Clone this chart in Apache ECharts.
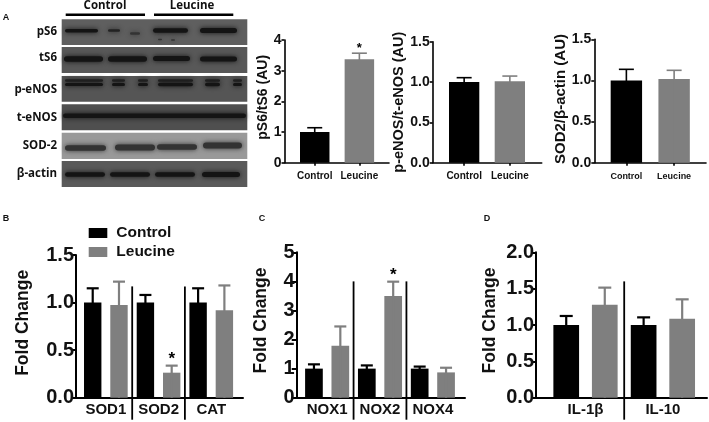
<!DOCTYPE html>
<html><head><meta charset="utf-8">
<style>html,body{margin:0;padding:0;background:#fff}#c{width:709px;height:422px}</style>
<script src="https://cdn.jsdelivr.net/npm/echarts@6/dist/echarts.min.js"></script>
</head><body><div id="c"></div>
<script>
const groupLabels = ['Control', 'Leucine'];
const pS6Means = [1.0, 3.37];
const pS6Tops = [1.14, 3.57];
const eNOSMeans = [1.0, 1.01];
const eNOSTops = [1.054, 1.074];
const sod2Means = [1.0, 1.017];
const sod2Tops = [1.135, 1.123];

const antioxCats = ['SOD1', 'SOD2', 'CAT'];
const antioxControl = [1.0, 1.0, 1.0];
const antioxControlTops = [1.15, 1.08, 1.15];
const antioxLeucine = [0.975, 0.263, 0.92];
const antioxLeucineTops = [1.22, 0.337, 1.18];

const noxCats = ['NOX1', 'NOX2', 'NOX4'];
const noxControl = [1.0, 1.0, 1.0];
const noxControlTops = [1.147, 1.11, 1.07];
const noxLeucine = [1.79, 3.5, 0.87];
const noxLeucineTops = [2.45, 3.99, 1.03];

const ilCats = ['IL-1β', 'IL-10'];
const ilControl = [1.0, 1.0];
const ilControlTops = [1.124, 1.105];
const ilLeucine = [1.28, 1.087];
const ilLeucineTops = [1.514, 1.353];

const BLACK = '#000', GRAY = '#7f7f7f', FONT = '"Liberation Sans", Arial, sans-serif';
const grid = [], xAxis = [], yAxis = [], series = [];

function errorSeries(gi, idx, tops, color, off, capW, lw, stars, starSize) {
  series.push({
    type: 'custom', xAxisIndex: gi, yAxisIndex: gi, silent: true, z: 5,
    data: tops.map((t, i) => [idx[i], t, stars && stars.includes(idx[i]) ? 1 : 0]),
    renderItem(p, api) {
      const i = api.value(0), t = api.value(1);
      const band = api.size([1, 0])[0];
      const x = api.coord([i, 0])[0] + off * band;
      const y0 = api.coord([i, 0])[1], y1 = api.coord([i, t])[1];
      const style = { stroke: color, lineWidth: lw, fill: 'none' };
      const kids = [
        { type: 'line', shape: { x1: x, y1: y0, x2: x, y2: y1 }, style },
        { type: 'line', shape: { x1: x - capW / 2, y1, x2: x + capW / 2, y2: y1 }, style }
      ];
      if (api.value(2)) kids.push({ type: 'text', style: { text: '*', x, y: y1 - starSize * 0.85, align: 'center', verticalAlign: 'top', fill: '#000', font: 'bold ' + starSize + 'px ' + FONT } });
      return { type: 'group', children: kids };
    }
  });
}

function panel(o) {
  let gi = grid.length;
  grid.push({ left: o.axisX, top: o.top, width: o.endX - o.axisX, height: o.zero - o.top });
  xAxis.push({ gridIndex: gi, type: 'value', min: 0, max: 1, axisLabel: { show: false }, axisTick: { show: false }, splitLine: { show: false }, axisLine: { show: true, lineStyle: { color: '#000', width: o.lw } } });
  yAxis.push({ gridIndex: gi, type: 'value', min: 0, max: o.max, interval: o.interval, name: o.name, nameLocation: 'middle', nameGap: o.nameGap,
    nameTextStyle: { color: '#111', fontFamily: FONT, fontWeight: 'bold', fontSize: o.nameSize, padding: [0, 0, 0, o.namePad || 0] },
    splitLine: { show: false },
    axisLine: { show: true, lineStyle: { color: '#000', width: o.lw } },
    axisTick: { show: true, length: o.tick, lineStyle: { color: '#000', width: o.lw } },
    axisLabel: { color: '#111', fontFamily: FONT, fontWeight: 'bold', fontSize: o.ySize, margin: o.yMargin, formatter: v => v.toFixed(o.dec) } });
  gi = grid.length;
  grid.push({ left: o.bandL, top: o.top, width: o.bandR - o.bandL, height: o.zero - o.top });
  xAxis.push({ gridIndex: gi, type: 'category', data: o.cats,
    axisLine: { show: false },
    axisTick: { show: !!o.xTick, alignWithLabel: true, length: o.xTick || 0, lineStyle: { color: '#000', width: o.lw } },
    axisLabel: { color: '#111', fontFamily: FONT, fontWeight: 'bold', fontSize: o.xSize, margin: o.xMargin, interval: 0 } });
  yAxis.push({ gridIndex: gi, type: 'value', min: 0, max: o.max, show: false });
  return gi;
}

function singlePanel(o, means, tops, stars) {
  const gi = panel(Object.assign({ cats: groupLabels }, o));
  series.push({ type: 'bar', xAxisIndex: gi, yAxisIndex: gi, barWidth: o.barW, silent: true,
    data: means.map((v, i) => ({ value: v, itemStyle: { color: i ? GRAY : BLACK } })) });
  errorSeries(gi, [0], [tops[0]], BLACK, 0, o.capW, o.errW);
  errorSeries(gi, [1], [tops[1]], GRAY, 0, o.capW, o.errW, stars, 13);
}

function groupPanel(o, ctrl, ctrlTops, leu, leuTops, stars) {
  const gi = panel(o);
  const base = { type: 'bar', xAxisIndex: gi, yAxisIndex: gi, barWidth: o.barW, barGap: o.barGap, silent: true };
  series.push(Object.assign({ name: 'Control', data: ctrl, itemStyle: { color: BLACK } }, base));
  series.push(Object.assign({ name: 'Leucine', data: leu, itemStyle: { color: GRAY } }, base));
  const off = (1 + parseFloat(o.barGap) / 100) * o.barW / 2 / ((o.bandR - o.bandL) / o.cats.length);
  const idx = o.cats.map((c, i) => i);
  errorSeries(gi, idx, ctrlTops, BLACK, -off, o.capW, o.errW);
  errorSeries(gi, idx, leuTops, GRAY, off, o.capW, o.errW, stars, 17);
  series.push({ type: 'custom', xAxisIndex: gi, yAxisIndex: gi, silent: true, z: 6,
    data: o.cats.slice(0, -1).map((c, i) => [i, o.divTop]),
    renderItem(p, api) {
      const i = api.value(0), band = api.size([1, 0])[0];
      const x = api.coord([i, 0])[0] + band / 2;
      return { type: 'line', shape: { x1: x, y1: api.coord([i, api.value(1)])[1], x2: x, y2: api.coord([i, 0])[1] + 22 }, style: { stroke: '#000', lineWidth: 1.8 } };
    } });
}

const smallA = { top: 0, zero: 162.7, lw: 1.6, tick: 3, ySize: 14, yMargin: 3, errW: 1.6, xTick: 3, xMargin: 9 };
singlePanel(Object.assign({}, smallA, { axisX: 284.5, endX: 389, top: 40, bandL: 292.4, bandR: 381.7, max: 4, interval: 1, dec: 0, name: 'pS6/tS6 (AU)', nameGap: 10, nameSize: 14, namePad: 8, barW: 29.5, capW: 15, xSize: 10 }), pS6Means, pS6Tops, [1]);
singlePanel(Object.assign({}, smallA, { axisX: 432.7, endX: 541.7, top: 41.7, bandL: 441.3, bandR: 532.7, max: 1.5, interval: 0.5, dec: 1, name: 'p-eNOS/t-eNOS (AU)', nameGap: 23, nameSize: 14.5, barW: 30.3, capW: 15, xSize: 10 }), eNOSMeans, eNOSTops);
singlePanel(Object.assign({}, smallA, { axisX: 594.3, endX: 706, top: 39.3, bandL: 602.5, bandR: 698, max: 1.5, interval: 0.5, dec: 1, name: 'SOD2/β-actin (AU)', nameGap: 25, nameSize: 15, namePad: 4, barW: 31.4, capW: 15, xSize: 9 }), sod2Means, sod2Tops);

const lower = { zero: 397.7, lw: 2, tick: 5, ySize: 20, yMargin: 2, errW: 2.2, capW: 12, xSize: 15, xMargin: 5, nameSize: 17.5, divTop: 1.17 };
groupPanel(Object.assign({}, lower, { axisX: 76, endX: 243, top: 255, bandL: 79.5, bandR: 237.6, cats: antioxCats, max: 1.5, interval: 0.5, dec: 1, name: 'Fold Change', nameGap: 44, namePad: 7, barW: 17.4, barGap: '51%' }), antioxControl, antioxControlTops, antioxLeucine, antioxLeucineTops, [1]);
groupPanel(Object.assign({}, lower, { axisX: 296.7, endX: 465, top: 252.3, bandL: 300.7, bandR: 459.3, cats: noxCats, max: 5, interval: 1, dec: 0, name: 'Fold Change', nameGap: 27, namePad: 9, barW: 17.7, barGap: '49%', divTop: 4 }), noxControl, noxControlTops, noxLeucine, noxLeucineTops, [1]);
groupPanel(Object.assign({}, lower, { axisX: 536, endX: 707, top: 252.3, bandL: 546.8, bandR: 701.6, cats: ilCats, max: 2, interval: 0.5, dec: 1, name: 'Fold Change', nameGap: 37, namePad: 9, barW: 25.7, barGap: '50%', capW: 13, divTop: 1.6 }), ilControl, ilControlTops, ilLeucine, ilLeucineTops);

const graphic = [];
function blotText(text, x, y, align, size) {
  graphic.push({ type: 'text', x, y, style: { text, align, verticalAlign: 'middle', fill: '#111', font: 'bold ' + size + 'px "Open Sans", ' + FONT } });
}
function blot(y0, y1, bg, bands) {
  graphic.push({ type: 'rect', shape: { x: 61.7, y: y0, width: 185.6, height: y1 - y0 }, style: { fill: bg } });
  bands.forEach(b => graphic.push({ type: 'rect', shape: { x: b[0], y: b[2] - b[3] / 2, width: b[1] - b[0], height: b[3], r: b[3] / 2 }, style: { fill: b[4] || '#141414', shadowBlur: 5, shadowColor: b[4] || '#141414' } }));
}
blot(19.3, 45, '#5f5f5f', [[65, 98, 30.7, 3.5], [108, 120, 30.5, 2.5, '#222'], [130, 140, 33.5, 2.5, '#333'], [153, 188, 30.5, 4.5], [200, 237, 30.5, 5], [158, 162, 39.5, 1.5, '#333'], [171, 175, 40, 1.5, '#333']]);
blot(47, 73, '#585858', [[64, 103, 59, 5.5], [108, 147, 59, 5.5], [153, 190, 58.5, 5], [200, 237, 59, 5]]);
blot(76, 101.7, '#555', [[65, 103, 80.5, 2.5, '#222'], [65, 103, 84.5, 3], [112, 125, 80.5, 2.5, '#222'], [112, 125, 84.5, 3], [138, 148, 80.5, 2.5, '#222'], [138, 148, 84.5, 3], [158, 193, 80.5, 2.5, '#222'], [158, 193, 84.5, 3.5], [205, 220, 80.5, 2.5, '#222'], [205, 220, 84.5, 3.5], [233, 242, 80.5, 2.5, '#222'], [233, 242, 84.5, 3]]);
blot(104.3, 130.3, '#4f4f4f', [[63, 246, 115.7, 4.5]]);
blot(132.7, 159, '#999', [[65, 106, 148, 5.5, '#333'], [115, 155, 147.5, 6, '#333'], [157, 197, 147, 5.5, '#333'], [203, 242, 145.5, 6, '#333']]);
blot(161, 187, '#5a5a5a', [[65, 105, 174.5, 4.5], [110, 150, 174.5, 4.5], [155, 195, 174.5, 4.5], [202, 240, 174.5, 5]]);
graphic.push({ type: 'rect', shape: { x: 65.7, y: 13.4, width: 79.3, height: 2.6 }, style: { fill: '#000' } });
graphic.push({ type: 'rect', shape: { x: 154, y: 13.4, width: 79.3, height: 2.6 }, style: { fill: '#000' } });
blotText('Control', 105, 6, 'center', 11.5);
blotText('Leucine', 192, 6, 'center', 11.5);
[['pS6', 32], ['tS6', 58], ['p-eNOS', 90], ['t-eNOS', 118], ['SOD-2', 146], ['β-actin', 174]].forEach(r => blotText(r[0], 57, r[1], 'right', 11.5));
[['A', 6, 18], ['B', 6, 219], ['C', 262, 219], ['D', 487, 219]].forEach(r =>
  graphic.push({ type: 'text', x: r[1], y: r[2], style: { text: r[0], align: 'center', verticalAlign: 'middle', fill: '#111', font: 'bold 9px ' + FONT } }));

const chart = echarts.init(document.getElementById('c'), null, { renderer: 'canvas' });
chart.setOption({
  animation: false, backgroundColor: '#fff',
  grid, xAxis, yAxis, series, graphic,
  legend: { data: groupLabels, orient: 'vertical', left: 88.7, top: 224, padding: 0, itemWidth: 18.6, itemHeight: 10, itemGap: 1, icon: 'rect', selectedMode: false, textStyle: { color: '#111', fontFamily: FONT, fontWeight: 'bold', fontSize: 15.5, lineHeight: 18, padding: [0, 0, 0, 4] } }
});
</script></body></html>
